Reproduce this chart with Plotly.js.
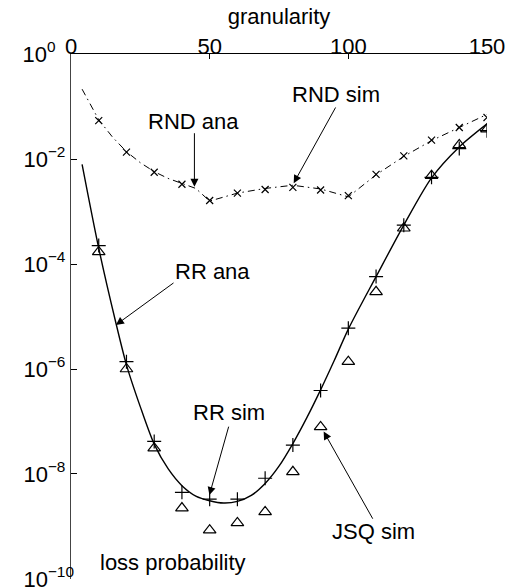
<!DOCTYPE html>
<html>
<head>
<meta charset="utf-8">
<script src="https://cdn.plot.ly/plotly-3.0.1.min.js"></script>
<style>html,body{margin:0;padding:0;background:#fff}#chart{width:517px;height:587px}</style>
</head>
<body>
<div id="chart"></div>
<script>
// ---- data ----
var granularity = [10, 20, 30, 40, 50, 60, 70, 80, 90, 100, 110, 120, 130, 140, 150];

var rndSim = [5.37e-2, 1.35e-2, 5.6e-3, 3.3e-3, 1.62e-3, 2.24e-3, 2.63e-3, 2.88e-3, 2.57e-3, 2.0e-3, 5.1e-3, 1.15e-2, 2.29e-2, 3.98e-2, 6.17e-2];
var rrSim  = [2.24e-4, 1.38e-6, 4.17e-8, 4.47e-9, 3.31e-9, 3.31e-9, 8.3e-9, 3.55e-8, 3.89e-7, 6.0e-6, 5.75e-5, 5.5e-4, 4.47e-3, 1.58e-2, 3.47e-2];
var jsqSim = [1.7e-4, 1.0e-6, 3.1e-8, 2.24e-9, 8.5e-10, 1.17e-9, 1.9e-9, 1.1e-8, 7.9e-8, 1.38e-6, 2.95e-5, 4.8e-4, 4.8e-3, 1.86e-2, 3.7e-2];

var rndAnaX = [4, 10, 15, 20, 25, 30, 35, 40, 45, 50, 60, 70, 80, 90, 100, 110, 120, 130, 140, 150];
var rndAnaY = [0.214, 5.6e-2, 2.6e-2, 1.38e-2, 8.5e-3, 5.75e-3, 4.27e-3, 3.39e-3, 2.75e-3, 1.58e-3, 2.24e-3, 2.75e-3, 3.16e-3, 2.69e-3, 1.9e-3, 5.0e-3, 1.12e-2, 2.24e-2, 3.98e-2, 7.08e-2];

var rrAnaX = [4, 10, 16, 20, 25, 30, 35, 40, 45, 50, 55, 60, 65, 70, 75, 80, 85, 90, 95, 100, 110, 120, 130, 140, 150];
var rrAnaY = [7.9e-3, 2.0e-4, 8.3e-6, 1.2e-6, 1.9e-7, 3.7e-8, 1.26e-8, 6.0e-9, 3.8e-9, 3.1e-9, 2.8e-9, 3.0e-9, 3.9e-9, 6.6e-9, 1.41e-8, 3.8e-8, 1.17e-7, 4.0e-7, 1.48e-6, 5.75e-6, 5.75e-5, 5.5e-4, 4.37e-3, 1.7e-2, 4.68e-2];

var xTicks = [0, 50, 100, 150];
var yTickVals = [1, 1e-2, 1e-4, 1e-6, 1e-8, 1e-10];
var NB = '\u00A0';
var yTickText = [
  '10<sup>0</sup>' + NB + NB + NB,
  '10<sup>\u22122' + NB + NB + '</sup>',
  '10<sup>\u22124' + NB + NB + '</sup>',
  '10<sup>\u22126' + NB + NB + '</sup>',
  '10<sup>\u22128' + NB + NB + '</sup>',
  '10<sup>\u221210</sup>'
];

// annotation labels and positions (x data, y in log10 units)
var labels = ['RND ana', 'RND sim', 'RR ana', 'RR sim', 'JSQ sim', 'loss probability'];
var labelX = [44.2, 95.7, 50.9, 57.0, 109.1, 36.6];
var labelY = [-1.29, -0.78, -4.15, -6.83, -9.10, -9.68];
// arrows: tip and tail
var tipX  = [44.5, 80.3, 16.2, 49.9, 91.1];
var tipY  = [-2.53, -2.46, -5.16, -8.40, -7.19];
var tailX = [44.5, 95.7, 37.5, 57.0, 109.1];
var tailY = [-1.48, -0.99, -4.34, -7.07, -8.88];

var FONT = 'Liberation Sans, Arial, Helvetica, sans-serif';
var XR = [0, 150];
var YR = [-10.0002, 0.0002];

var traces = [
  {x: rndAnaX, y: rndAnaY, mode: 'lines', type: 'scatter',
   line: {color: '#000', width: 1, dash: '7px,4px,1.5px,4px'}, hoverinfo: 'skip'},
  {x: rrAnaX, y: rrAnaY, mode: 'lines', type: 'scatter',
   line: {color: '#000', width: 1.4, shape: 'spline', smoothing: 0.8}, hoverinfo: 'skip'},
  {x: granularity, y: rndSim, mode: 'markers', type: 'scatter',
   marker: {symbol: 'x-thin', size: 7, color: '#000', line: {color: '#000', width: 1.2}}},
  {x: granularity, y: rrSim, mode: 'markers', type: 'scatter',
   marker: {symbol: 'cross-thin', size: 10, color: '#000', line: {color: '#000', width: 1.2}}},
  {x: granularity, y: jsqSim, mode: 'markers', type: 'scatter',
   marker: {symbol: 'triangle-up-open', size: 11, color: '#000', line: {color: '#000', width: 1.2}}},
  // label-only axes carrier (transparent, draws nothing)
  {x: granularity, y: rrSim, xaxis: 'x2', yaxis: 'y2', mode: 'markers', type: 'scatter',
   marker: {size: 1, opacity: 0}, hoverinfo: 'skip'}
];

var annotations = [];
for (var i = 0; i < labels.length; i++) {
  annotations.push({x: labelX[i], y: labelY[i], xref: 'x', yref: 'y', text: labels[i],
    showarrow: false, xanchor: 'center', yanchor: 'middle',
    font: {family: FONT, size: 22, color: '#000'}});
}
for (var j = 0; j < tipX.length; j++) {
  annotations.push({x: tipX[j], y: tipY[j], xref: 'x', yref: 'y', text: '',
    showarrow: true, axref: 'x', ayref: 'y', ax: tailX[j], ay: tailY[j],
    arrowhead: 2, arrowsize: 1.6, arrowwidth: 1, arrowcolor: '#000', standoff: 0});
}

var tf = {family: FONT, size: 22, color: '#000'};
var layout = {
  width: 517, height: 587,
  margin: {l: 71, r: 30, t: 54, b: 8, pad: 0},
  paper_bgcolor: '#fff', plot_bgcolor: '#fff',
  showlegend: false,
  font: tf,
  xaxis: {
    side: 'top', range: XR, tickvals: xTicks,
    ticks: 'inside', ticklen: 5, tickcolor: '#000', tickwidth: 1,
    showline: true, linecolor: '#000', linewidth: 1, mirror: false,
    showgrid: false, zeroline: false, showticklabels: false
  },
  xaxis2: {
    overlaying: 'x', anchor: 'free', position: 0.9924, side: 'top', range: XR,
    tickvals: xTicks, ticktext: xTicks.map(String), ticks: '',
    showline: false, showgrid: false, zeroline: false, tickfont: tf,
    title: {text: 'granularity', font: tf, standoff: 1}
  },
  yaxis: {
    type: 'log', range: YR, tickvals: yTickVals,
    ticks: 'inside', ticklen: 6, tickcolor: '#000', tickwidth: 1,
    showline: true, linecolor: '#444', linewidth: 1, mirror: false,
    showgrid: false, zeroline: false, showticklabels: false
  },
  yaxis2: {
    overlaying: 'y', anchor: 'free', position: 0.0072, side: 'left',
    type: 'log', range: YR, tickvals: yTickVals, ticktext: yTickText, ticks: '',
    showline: false, showgrid: false, zeroline: false, tickfont: tf,
    ticklabeloverflow: 'allow'
  },
  annotations: annotations
};

Plotly.newPlot('chart', traces, layout, {staticPlot: true, displayModeBar: false});
</script>
</body>
</html>
